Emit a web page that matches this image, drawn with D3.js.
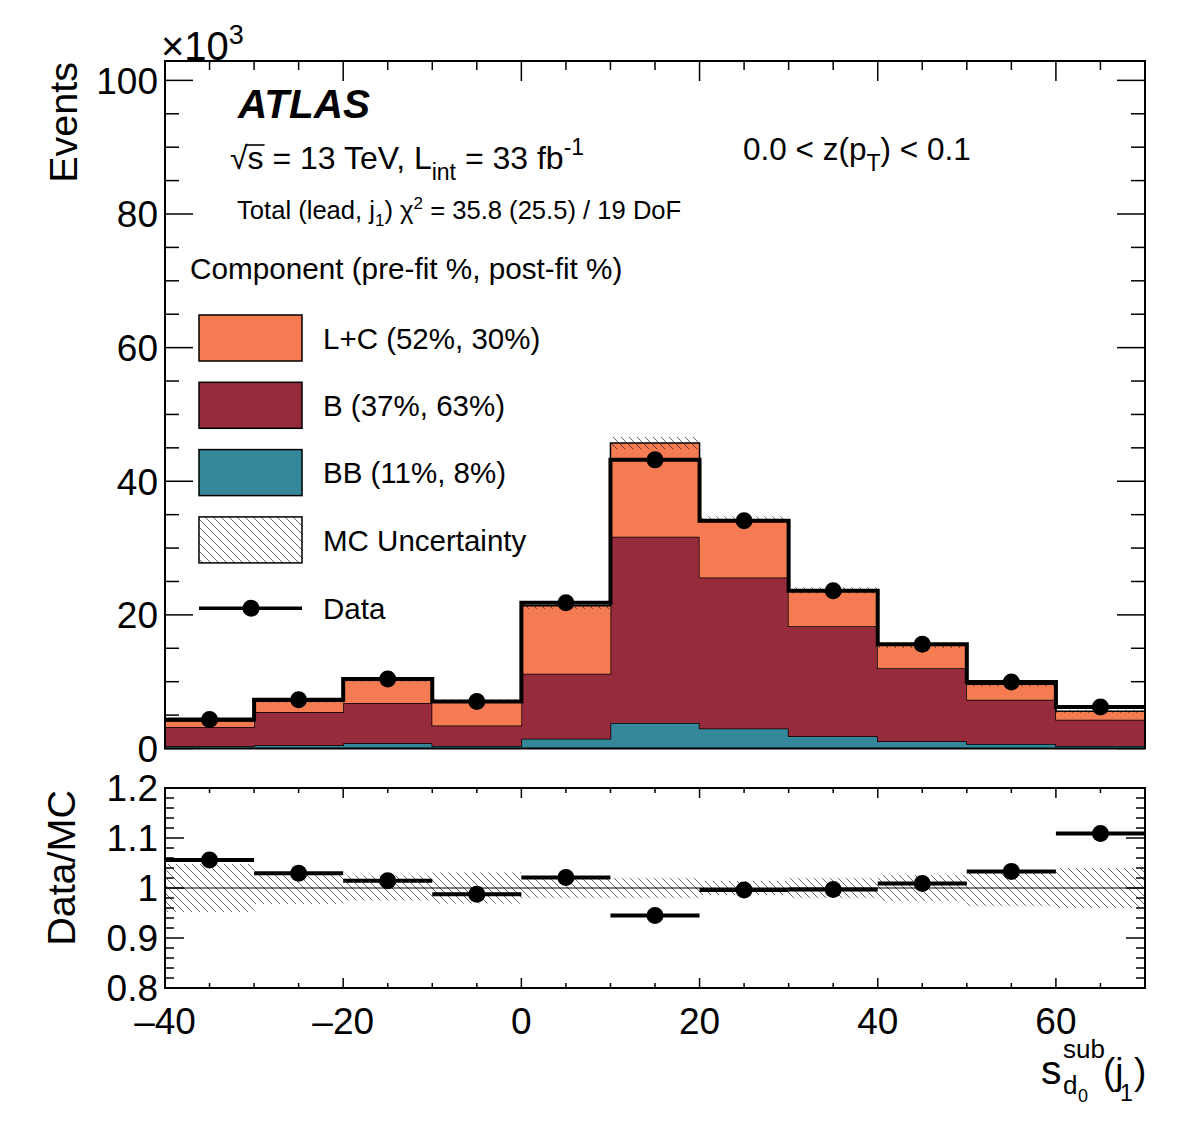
<!DOCTYPE html>
<html>
<head>
<meta charset="utf-8">
<script src="https://cdn.jsdelivr.net/npm/d3@7"></script>
<style>
  body { margin: 0; background: #fff; }
  text { font-family: "Liberation Sans", Arial, Helvetica, sans-serif; fill: #000; }
</style>
</head>
<body>
<div id="chart"></div>
<script>
// bin edges of s_d0^sub(j1)
const binEdges = [-40, -30, -20, -10, 0, 10, 20, 30, 40, 50, 60, 70];
// stacked MC components, x10^3 events
const bbValues = [0.35, 0.5, 0.8, 0.37, 1.45, 3.8, 3.0, 1.85, 1.1, 0.67, 0.37];
const bValues  = [2.85, 4.95, 6.0, 3.08, 9.75, 27.9, 22.6, 16.45, 10.9, 6.63, 3.93];
const lcValues = [0.92, 1.64, 3.45, 3.69, 10.15, 14.01, 8.64, 5.37, 3.46, 2.33, 1.29];
// data, x10^3 events
const dataValues = [4.35, 7.3, 10.4, 7.05, 21.8, 43.2, 34.1, 23.6, 15.6, 9.95, 6.2];
// relative MC uncertainty per bin
const mcUncertainty = [0.048, 0.032, 0.025, 0.031, 0.02, 0.02, 0.014, 0.02, 0.026, 0.036, 0.04];

const xTicks = [-40, -20, 0, 20, 40, 60];
const yTicksMain = [0, 20, 40, 60, 80, 100];
const yTicksRatio = [0.8, 0.9, 1, 1.1, 1.2];

const legendLabels = ["L+C (52%, 30%)", "B (37%, 63%)", "BB (11%, 8%)", "MC Uncertainty", "Data"];
const colors = { lc: "#f57c52", b: "#962b3c", bb: "#34889a" };

const W = 1182, H = 1134;
const left = 165, right = 1145;
const mainTop = 61, mainBottom = 748.5;
const ratioTop = 788, ratioBottom = 988;

const svg = d3.select("#chart").append("svg")
    .attr("width", W).attr("height", H);

const defs = svg.append("defs");
const hatch = defs.append("pattern")
    .attr("id", "hatch")
    .attr("patternUnits", "userSpaceOnUse")
    .attr("width", 8).attr("height", 8);
hatch.append("path")
    .attr("d", "M-1,-1 L9,9 M-1,7 L1,9 M7,-1 L9,1")
    .attr("stroke", "#222").attr("stroke-width", 0.7);

const x = d3.scaleLinear().domain([-40, 70]).range([left, right]);
const y = d3.scaleLinear().domain([0, 102.9]).range([mainBottom, mainTop]);
const yr = d3.scaleLinear().domain([0.8, 1.2]).range([ratioBottom, ratioTop]);

// per-bin table
const bins = binEdges.slice(0, -1).map((lo, i) => {
    const bb = bbValues[i], b = bValues[i], lc = lcValues[i];
    const total = bb + b + lc;
    return {
        lo, hi: binEdges[i + 1],
        bb0: 0, bb1: bb,
        b0: bb, b1: bb + b,
        lc0: bb + b, lc1: total,
        total,
        data: dataValues[i],
        unc: mcUncertainty[i],
        ratio: dataValues[i] / total
    };
});
const stepPts = bins.flatMap(d => [{ x: d.lo, d }, { x: d.hi, d }]);

// ---------- main panel ticks (drawn first, histograms cover them) ----------
const gMain = svg.append("g");
const gTicks = gMain.append("g").attr("stroke", "#000").attr("stroke-width", 1.5);
d3.range(-40, 70.01, 5).forEach(v => {
    const len = v % 20 === 0 ? 20 : 9;
    gTicks.append("line").attr("x1", x(v)).attr("x2", x(v)).attr("y1", mainTop).attr("y2", mainTop + len);
    gTicks.append("line").attr("x1", x(v)).attr("x2", x(v)).attr("y1", mainBottom).attr("y2", mainBottom - len);
});
d3.range(0, 102.9, 5).forEach(v => {
    const len = v % 20 === 0 ? 28 : 14;
    gTicks.append("line").attr("x1", left).attr("x2", left + len).attr("y1", y(v)).attr("y2", y(v));
    gTicks.append("line").attr("x1", right).attr("x2", right - len).attr("y1", y(v)).attr("y2", y(v));
});

// ---------- stacked histograms ----------
[["bb", colors.bb], ["b", colors.b], ["lc", colors.lc]].forEach(([k, c]) => {
    const area = d3.area()
        .x(p => x(p.x))
        .y0(p => y(p.d[k + "0"]))
        .y1(p => y(p.d[k + "1"]));
    gMain.append("path").datum(stepPts)
        .attr("d", area).attr("fill", c).attr("stroke", "none");
    gMain.append("path").datum(stepPts)
        .attr("d", d3.line().x(p => x(p.x)).y(p => y(p.d[k + "1"])))
        .attr("fill", "none").attr("stroke", "#000").attr("stroke-width", 1.5);
});

// MC uncertainty band
gMain.append("path").datum(stepPts)
    .attr("d", d3.area()
        .x(p => x(p.x))
        .y0(p => y(p.d.total * (1 - p.d.unc)))
        .y1(p => y(p.d.total * (1 + p.d.unc))))
    .attr("fill", "url(#hatch)");

// data as thick step line plus markers
gMain.append("path").datum(stepPts)
    .attr("d", d3.line().x(p => x(p.x)).y(p => y(p.d.data)))
    .attr("fill", "none").attr("stroke", "#000").attr("stroke-width", 4);
gMain.selectAll(".dot").data(bins).join("circle")
    .attr("cx", d => x((d.lo + d.hi) / 2))
    .attr("cy", d => y(d.data))
    .attr("r", 8.5).attr("fill", "#000");

gMain.append("rect")
    .attr("x", left).attr("y", mainTop)
    .attr("width", right - left).attr("height", mainBottom - mainTop)
    .attr("fill", "none").attr("stroke", "#000").attr("stroke-width", 2);

// main y labels
yTicksMain.forEach(v => {
    svg.append("text").attr("x", 158).attr("y", y(v)).attr("dy", "0.36em")
        .attr("text-anchor", "end").attr("font-size", 37).text(v);
});
const exp = svg.append("text").attr("x", 161).attr("y", 60).attr("font-size", 40);
exp.append("tspan").text("×10");
exp.append("tspan").attr("font-size", 27).attr("dy", -16).text("3");

svg.append("text")
    .attr("transform", "translate(77,62) rotate(-90)")
    .attr("text-anchor", "end").attr("font-size", 39.5).text("Events");

// ---------- texts ----------
svg.append("text").attr("x", 238).attr("y", 118)
    .attr("font-size", 40.5).attr("font-weight", "bold").attr("font-style", "italic").text("ATLAS");

const lumi = svg.append("text").attr("x", 230).attr("y", 169).attr("font-size", 32);
lumi.append("tspan").text("√");
lumi.append("tspan").text("s");
lumi.append("tspan").text(" = 13 TeV, L");
lumi.append("tspan").attr("font-size", 23).attr("dy", 11).text("int");
lumi.append("tspan").attr("dy", -11).text(" = 33 fb");
lumi.append("tspan").attr("font-size", 23).attr("dy", -14).text("-1");
{
    // overline of the square root
    const start = lumi.node().getStartPositionOfChar(1);
    const end = lumi.node().getEndPositionOfChar(1);
    svg.append("line").attr("x1", start.x - 1).attr("x2", end.x + 1)
        .attr("y1", 145).attr("y2", 145).attr("stroke", "#000").attr("stroke-width", 1.6);
}

const chi = svg.append("text").attr("x", 237).attr("y", 219).attr("font-size", 25.6);
chi.append("tspan").text("Total (lead, j");
chi.append("tspan").attr("font-size", 17).attr("dy", 7).text("1");
chi.append("tspan").attr("dy", -7).text(") χ");
chi.append("tspan").attr("font-size", 17).attr("dy", -10).text("2");
chi.append("tspan").attr("dy", 10).text(" = 35.8 (25.5) / 19 DoF");

const zpt = svg.append("text").attr("x", 743).attr("y", 160).attr("font-size", 31.5);
zpt.append("tspan").text("0.0 < z(p");
zpt.append("tspan").attr("font-size", 23).attr("dy", 11).text("T");
zpt.append("tspan").attr("dy", -11).text(") < 0.1");

// ---------- legend ----------
svg.append("text").attr("x", 190).attr("y", 279).attr("font-size", 29.7)
    .text("Component (pre-fit %, post-fit %)");
const legendFills = [colors.lc, colors.b, colors.bb, "url(#hatch)"];
legendLabels.forEach((lab, i) => {
    const cy = 338 + i * 67.3;
    if (i < 4) {
        svg.append("rect").attr("x", 199).attr("y", cy - 23).attr("width", 103).attr("height", 46)
            .attr("fill", legendFills[i]).attr("stroke", "#000").attr("stroke-width", 1.5);
    } else {
        svg.append("line").attr("x1", 199).attr("x2", 302).attr("y1", cy + 1).attr("y2", cy + 1)
            .attr("stroke", "#000").attr("stroke-width", 3.5);
        svg.append("circle").attr("cx", 251).attr("cy", cy + 1).attr("r", 8.5);
    }
    svg.append("text").attr("x", 323).attr("y", cy + (i === 4 ? 1 : 0)).attr("dy", "0.36em")
        .attr("font-size", 29.5).text(lab);
});

// ---------- ratio panel ----------
const gR = svg.append("g");
const gRt = gR.append("g").attr("stroke", "#000").attr("stroke-width", 1.5);
d3.range(-40, 70.01, 5).forEach(v => {
    const len = v % 20 === 0 ? 10 : 5;
    gRt.append("line").attr("x1", x(v)).attr("x2", x(v)).attr("y1", ratioTop).attr("y2", ratioTop + len);
    gRt.append("line").attr("x1", x(v)).attr("x2", x(v)).attr("y1", ratioBottom).attr("y2", ratioBottom - len);
});
d3.range(0.8, 1.2001, 0.02).forEach(v => {
    const major = Math.abs(v * 10 - Math.round(v * 10)) < 1e-6;
    const len = major ? 19 : 9;
    gRt.append("line").attr("x1", left).attr("x2", left + len).attr("y1", yr(v)).attr("y2", yr(v));
    gRt.append("line").attr("x1", right).attr("x2", right - len).attr("y1", yr(v)).attr("y2", yr(v));
});

gR.append("path").datum(stepPts)
    .attr("d", d3.area()
        .x(p => x(p.x))
        .y0(p => yr(1 - p.d.unc))
        .y1(p => yr(1 + p.d.unc)))
    .attr("fill", "url(#hatch)");
gR.append("line").attr("x1", left).attr("x2", right).attr("y1", yr(1)).attr("y2", yr(1))
    .attr("stroke", "#000").attr("stroke-width", 1.2);

gR.selectAll(".rbar").data(bins).join("line")
    .attr("x1", d => x(d.lo)).attr("x2", d => x(d.hi))
    .attr("y1", d => yr(d.ratio)).attr("y2", d => yr(d.ratio))
    .attr("stroke", "#000").attr("stroke-width", 4);
gR.selectAll(".rdot").data(bins).join("circle")
    .attr("cx", d => x((d.lo + d.hi) / 2)).attr("cy", d => yr(d.ratio))
    .attr("r", 8.5).attr("fill", "#000");

gR.append("rect")
    .attr("x", left).attr("y", ratioTop)
    .attr("width", right - left).attr("height", ratioBottom - ratioTop)
    .attr("fill", "none").attr("stroke", "#000").attr("stroke-width", 2);

yTicksRatio.forEach(v => {
    svg.append("text").attr("x", 158).attr("y", yr(v)).attr("dy", "0.36em")
        .attr("text-anchor", "end").attr("font-size", 37).text(v === 1 ? "1" : v.toFixed(1));
});
xTicks.forEach(v => {
    svg.append("text").attr("x", x(v)).attr("y", 1034)
        .attr("text-anchor", "middle").attr("font-size", 37)
        .text(v < 0 ? "\u2013" + Math.abs(v) : v);
});
svg.append("text")
    .attr("transform", "translate(75,790) rotate(-90)")
    .attr("text-anchor", "end").attr("font-size", 39.5).text("Data/MC");

// x axis title: s_{d0}^{sub}(j1)
svg.append("text").attr("x", 1041).attr("y", 1084).attr("font-size", 41).text("s");
svg.append("text").attr("x", 1063).attr("y", 1058).attr("font-size", 26).text("sub");
svg.append("text").attr("x", 1063).attr("y", 1094).attr("font-size", 26).text("d");
svg.append("text").attr("x", 1078).attr("y", 1102).attr("font-size", 18).text("0");
svg.append("text").attr("x", 1103).attr("y", 1084).attr("font-size", 37).text("(j");
svg.append("text").attr("x", 1120).attr("y", 1101).attr("font-size", 23).text("1");
svg.append("text").attr("x", 1134).attr("y", 1084).attr("font-size", 37).text(")");
</script>
</body>
</html>
